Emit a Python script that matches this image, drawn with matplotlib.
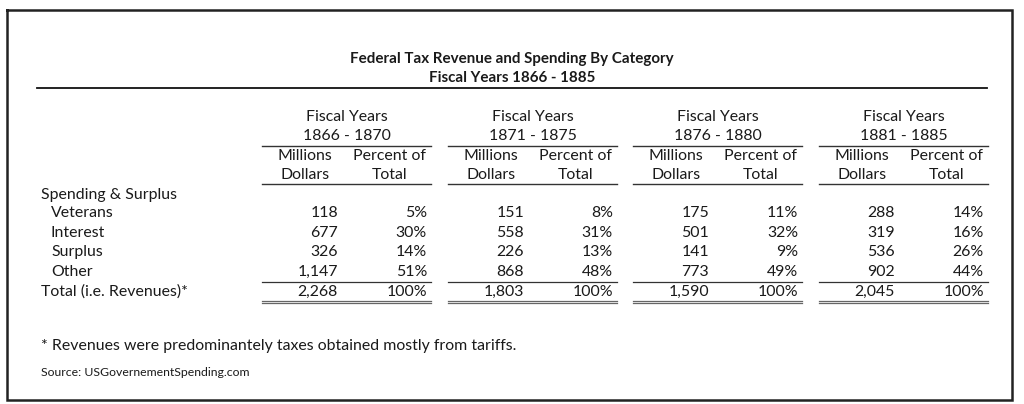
import matplotlib
matplotlib.use("Agg")
import matplotlib.pyplot as plt

# ---- data ----
title_lines = ["Federal Tax Revenue and Spending By Category", "Fiscal Years 1866 - 1885"]
periods = ["1866 - 1870", "1871 - 1875", "1876 - 1880", "1881 - 1885"]
categories = ["Veterans", "Interest", "Surplus", "Other"]
millions = [
    [118, 677, 326, 1147],
    [151, 558, 226, 868],
    [175, 501, 141, 773],
    [288, 319, 536, 902],
]
percents = [
    [5, 30, 14, 51],
    [8, 31, 13, 48],
    [11, 32, 9, 49],
    [14, 16, 26, 44],
]
totals = [2268, 1803, 1590, 2045]
total_pct = [100, 100, 100, 100]
section_label = "Spending & Surplus"
total_label = "Total (i.e. Revenues)*"
footnote = "* Revenues were predominantely taxes obtained mostly from tariffs."
source = "Source: USGovernementSpending.com"

FONT = "Lato"
TXT = "#1a1a1a"

fig = plt.figure(figsize=(10.24, 4.04), dpi=100)
ax = fig.add_axes([0, 0, 1, 1])
ax.set_xlim(0, 1024)
ax.set_ylim(404, 0)
ax.axis("off")

# outer border
ax.plot([7, 1012, 1012, 7, 7], [10, 10, 400, 400, 10], color="#222222", lw=1.8,
        solid_joinstyle="miter")

# title
ax.text(512, 59, title_lines[0], ha="center", va="center", fontsize=10.9,
        fontweight="bold", family=FONT, color=TXT)
ax.text(512, 78, title_lines[1], ha="center", va="center", fontsize=10.9,
        fontweight="bold", family=FONT, color=TXT)
ax.plot([37, 987], [88, 88], color="#111111", lw=1.3)

group_left = [262, 448, 633, 819]
group_w = 169
fs = 11.4

for g in range(4):
    x0 = group_left[g]
    xc = x0 + group_w / 2
    ax.text(xc, 117, "Fiscal Years", ha="center", va="center", fontsize=fs, family=FONT, color=TXT)
    ax.text(xc, 136, periods[g], ha="center", va="center", fontsize=fs, family=FONT, color=TXT)
    ax.plot([x0, x0 + group_w], [146, 146], color="#333333", lw=1.0)
    ax.text(x0 + 43, 156, "Millions", ha="center", va="center", fontsize=fs, family=FONT, color=TXT)
    ax.text(x0 + 43, 175, "Dollars", ha="center", va="center", fontsize=fs, family=FONT, color=TXT)
    ax.text(x0 + 127, 156, "Percent of", ha="center", va="center", fontsize=fs, family=FONT, color=TXT)
    ax.text(x0 + 128, 175, "Total", ha="center", va="center", fontsize=fs, family=FONT, color=TXT)
    ax.plot([x0, x0 + group_w], [184, 184], color="#333333", lw=1.0)

    xm = x0 + 76
    xp = x0 + 165
    for i in range(len(categories)):
        y = 213 + i * 19.7
        ax.text(xm, y, f"{millions[g][i]:,}", ha="right", va="center", fontsize=fs, family=FONT, color=TXT)
        ax.text(xp, y, f"{percents[g][i]}%", ha="right", va="center", fontsize=fs, family=FONT, color=TXT)
    ax.plot([x0, x0 + group_w], [282, 282], color="#333333", lw=0.9)
    ax.text(xm, 292, f"{totals[g]:,}", ha="right", va="center", fontsize=fs, family=FONT, color=TXT)
    ax.text(xp, 292, f"{total_pct[g]}%", ha="right", va="center", fontsize=fs, family=FONT, color=TXT)
    ax.plot([x0, x0 + group_w], [300.5, 300.5], color="#666666", lw=0.9)
    ax.plot([x0, x0 + group_w], [303, 303], color="#666666", lw=0.9)

ax.text(41, 195, section_label, ha="left", va="center", fontsize=fs, family=FONT, color=TXT)
for i, c in enumerate(categories):
    ax.text(51, 213 + i * 19.7, c, ha="left", va="center", fontsize=fs, family=FONT, color=TXT)
ax.text(41, 292, total_label, ha="left", va="center", fontsize=fs, family=FONT, color=TXT)

ax.text(41, 346, footnote, ha="left", va="center", fontsize=11.4, family=FONT, color=TXT)
ax.text(41, 373, source, ha="left", va="center", fontsize=8.8, family=FONT, color=TXT)

fig.savefig("out.png", dpi=100, facecolor="white")
